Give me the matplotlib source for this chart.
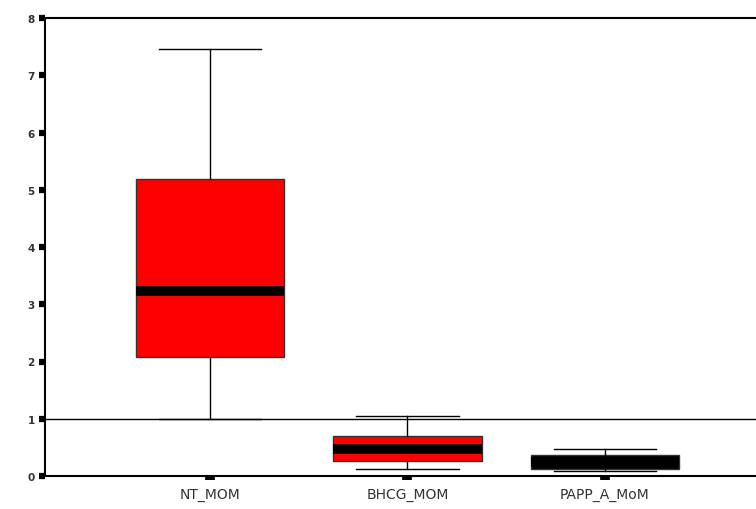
import matplotlib
matplotlib.use("Agg")
import matplotlib.pyplot as plt

# ==============================
# DATA
# ==============================
labels = ["NT_MOM", "BHCG_MOM", "PAPP_A_MoM"]
whisker_low = [1.00, 0.12, 0.08]
q1 = [2.08, 0.26, 0.13]
medians = [3.23, 0.48, 0.25]
q3 = [5.18, 0.70, 0.36]
whisker_high = [7.45, 1.05, 0.47]
box_colors = ["#ff0000", "#ff0000", "#000000"]
ref_value = 1.0

stats = []
for i in range(len(labels)):
    stats.append({
        "label": labels[i],
        "whislo": whisker_low[i],
        "q1": q1[i],
        "med": medians[i],
        "q3": q3[i],
        "whishi": whisker_high[i],
        "fliers": [],
    })

# ==============================
# FIGURE
# ==============================
plt.rcParams["font.family"] = ["DejaVu Sans"]

fig = plt.figure(figsize=(7.56, 5.10), dpi=100)
ax = fig.add_axes([45 / 756, 33 / 510, 711 / 756, 458 / 510])

positions = [1, 2, 3]
bp = ax.bxp(stats, positions=positions, widths=0.75, patch_artist=True,
            showfliers=False,
            boxprops=dict(edgecolor="#333333", linewidth=1.0),
            medianprops=dict(color="black", linewidth=7),
            whiskerprops=dict(color="black", linewidth=1.0),
            capprops=dict(color="black", linewidth=1.0),
            capwidths=0.52)
for patch, c in zip(bp["boxes"], box_colors):
    patch.set_facecolor(c)

ax.axhline(ref_value, color="black", linewidth=1.0, zorder=1)

ax.set_xlim(0.1646, 3.7646)
ax.set_ylim(0, 8)
ax.set_yticks(range(0, 9))
ax.set_xticks(positions)
ax.set_xticklabels(labels)

ax.spines["right"].set_visible(False)
for s in ["left", "top", "bottom"]:
    ax.spines[s].set_linewidth(1.5)
    ax.spines[s].set_color("black")

ax.tick_params(axis="y", direction="out", length=4.5, width=4.5, pad=3,
               labelsize=7.5)
ax.tick_params(axis="x", direction="out", length=3, width=7, pad=5,
               labelsize=10)
for t in ax.get_yticklabels():
    t.set_fontweight("bold")
    t.set_color("#333333")
for t in ax.get_xticklabels():
    t.set_color("#333333")

plt.savefig("out.png", dpi=100)
